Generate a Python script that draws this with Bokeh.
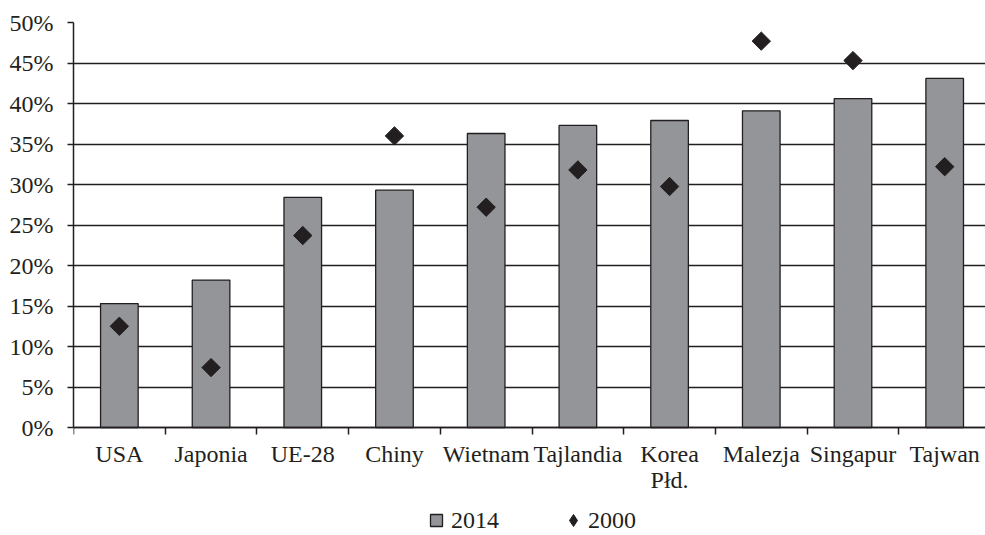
from bokeh.plotting import figure
from bokeh.models import (Range1d, FixedTicker, PrintfTickFormatter, Legend, LegendItem,
                          ColumnDataSource)
from bokeh.embed import file_html
from bokeh.resources import INLINE
import math

categories = ["USA", "Japonia", "UE-28", "Chiny", "Wietnam", "Tajlandia", "Korea\nPłd.",
              "Malezja", "Singapur", "Tajwan"]
values_2014 = [15.3, 18.2, 28.4, 29.3, 36.3, 37.3, 37.9, 39.1, 40.6, 43.1]
values_2000 = [12.5, 7.4, 23.7, 36.0, 27.2, 31.8, 29.75, 47.7, 45.3, 32.2]
y_ticks = [0, 5, 10, 15, 20, 25, 30, 35, 40, 45, 50]

xs = list(range(len(categories)))
src = ColumnDataSource(dict(x=xs, v14=values_2014, v00=values_2000))

DARK = "#231f20"
GRAY = "#939598"
FONT = "Liberation Serif"
FS = "24px"

# frame reaches the bottom of the page; the x axis sits at y=0 inside it
p = figure(frame_width=912, frame_height=513, output_backend="svg", toolbar_location=None,
           x_range=Range1d(-0.5, 9.445), y_range=Range1d(-13.33, 50),
           min_border_left=73, min_border_right=0, min_border_top=22, min_border_bottom=0)
p.outline_line_color = None
p.background_fill_color = "white"
p.border_fill_color = "white"

p.xgrid.visible = False
p.ygrid.ticker = FixedTicker(ticks=y_ticks)
p.ygrid.grid_line_color = DARK
p.ygrid.grid_line_width = 1.3

p.vbar(x="x", top="v14", width=0.41, source=src, fill_color=GRAY,
       line_color=DARK, line_width=1.3)
p.scatter(x="x", y="v00", source=src, marker="square", size=13, angle=math.pi / 4,
          fill_color=DARK, line_color=DARK)

# zero-size marker renderers used only for the legend swatches
leg14 = p.scatter(x="x", y="v14", source=src, marker="square", size=0,
                  fill_color=GRAY, line_color=DARK, line_width=1.3)
leg00 = p.scatter(x="x", y="v00", source=src, marker="diamond", size=0,
                  fill_color=DARK, line_color=DARK)

# x axis
xa = p.xaxis[0]
xa.fixed_location = 0
xa.ticker = FixedTicker(ticks=xs, minor_ticks=[i - 0.5 for i in range(len(categories) + 1)])
xa.major_label_overrides = {i: c for i, c in enumerate(categories)}
xa.major_tick_out = 0
xa.major_tick_in = 0
xa.minor_tick_out = 7
xa.minor_tick_in = 0
xa.minor_tick_line_color = DARK
xa.minor_tick_line_width = 1.5
xa.axis_line_color = DARK
xa.axis_line_width = 1.5
xa.major_label_text_font = FONT
xa.major_label_text_font_size = FS
xa.major_label_text_color = DARK
xa.major_label_text_line_height = 1.0
xa.major_label_standoff = 6

# y axis
ya = p.yaxis[0]
ya.bounds = (0, 50)
ya.ticker = FixedTicker(ticks=y_ticks)
ya.formatter = PrintfTickFormatter(format="%d%%")
ya.major_tick_out = 6
ya.major_tick_in = 0
ya.minor_tick_line_color = None
ya.major_tick_line_color = DARK
ya.major_tick_line_width = 1.3
ya.axis_line_color = DARK
ya.axis_line_width = 1.5
ya.major_label_text_font = FONT
ya.major_label_text_font_size = FS
ya.major_label_text_color = DARK
ya.major_label_standoff = 14

legend = Legend(items=[LegendItem(label="2014", renderers=[leg14]),
                       LegendItem(label="2000", renderers=[leg00])],
                orientation="horizontal", location=(348, 0),
                label_text_font=FONT, label_text_font_size=FS, label_text_color=DARK,
                glyph_width=30, glyph_height=30, label_standoff=0, spacing=59,
                border_line_color=None, background_fill_alpha=0, padding=0, margin=0)
p.add_layout(legend, "center")

open("out.html", "w").write(file_html(p, INLINE))
